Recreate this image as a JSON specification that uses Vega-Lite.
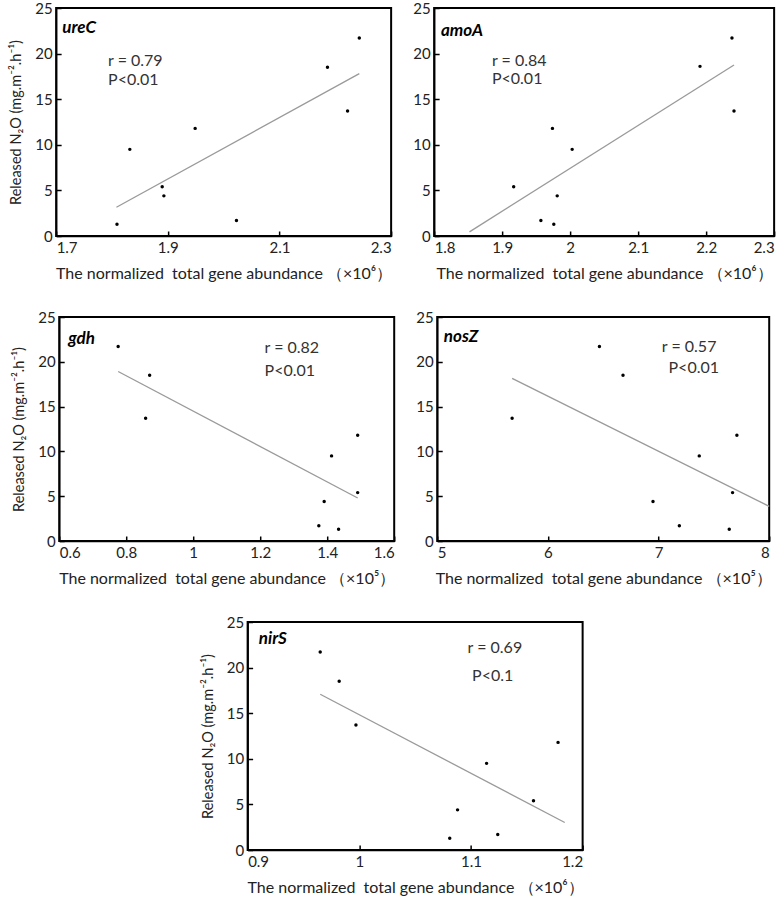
{
  "$schema": "https://vega.github.io/schema/vega-lite/v6.json",
  "background": "white",
  "padding": {"left": 7, "top": 0, "right": 1, "bottom": 2},
  "spacing": 27,
  "center": true,
  "config": {
    "view": {"stroke": "black", "strokeWidth": 2},
    "concat": {"spacing": 18},
    "axis": {
      "grid": false,
      "domainColor": "black",
      "domainWidth": 1.5,
      "tickColor": "black",
      "tickWidth": 1.5,
      "tickSize": -5,
      "labelColor": "#222",
      "labelFont": "Lato",
      "labelFontSize": 15,
      "labelPadding": 9,
      "titleFont": "Lato",
      "titleFontWeight": "normal",
      "titleColor": "#222",
      "titleFontSize": 16
    },
    "axisY": {"titleFontSize": 14.5, "titlePadding": 11},
    "axisX": {"titlePadding": 10}
  },
  "datasets": {
    "points": [
      {"gene": "ureC", "x": 1.809, "y": 1.3},
      {"gene": "ureC", "x": 1.832, "y": 9.5},
      {"gene": "ureC", "x": 1.890, "y": 5.4},
      {"gene": "ureC", "x": 1.893, "y": 4.4},
      {"gene": "ureC", "x": 1.949, "y": 11.8},
      {"gene": "ureC", "x": 2.023, "y": 1.7},
      {"gene": "ureC", "x": 2.186, "y": 18.5},
      {"gene": "ureC", "x": 2.222, "y": 13.7},
      {"gene": "ureC", "x": 2.243, "y": 21.7},
      {"gene": "amoA", "x": 2.238, "y": 21.7},
      {"gene": "amoA", "x": 2.191, "y": 18.6},
      {"gene": "amoA", "x": 2.241, "y": 13.7},
      {"gene": "amoA", "x": 1.974, "y": 11.8},
      {"gene": "amoA", "x": 2.003, "y": 9.5},
      {"gene": "amoA", "x": 1.917, "y": 5.4},
      {"gene": "amoA", "x": 1.981, "y": 4.4},
      {"gene": "amoA", "x": 1.957, "y": 1.7},
      {"gene": "amoA", "x": 1.976, "y": 1.3},
      {"gene": "gdh", "x": 0.776, "y": 21.7},
      {"gene": "gdh", "x": 0.870, "y": 18.5},
      {"gene": "gdh", "x": 0.858, "y": 13.7},
      {"gene": "gdh", "x": 1.491, "y": 11.8},
      {"gene": "gdh", "x": 1.413, "y": 9.5},
      {"gene": "gdh", "x": 1.391, "y": 4.4},
      {"gene": "gdh", "x": 1.491, "y": 5.4},
      {"gene": "gdh", "x": 1.375, "y": 1.7},
      {"gene": "gdh", "x": 1.434, "y": 1.3},
      {"gene": "nosZ", "x": 6.466, "y": 21.7},
      {"gene": "nosZ", "x": 6.679, "y": 18.5},
      {"gene": "nosZ", "x": 5.677, "y": 13.7},
      {"gene": "nosZ", "x": 7.708, "y": 11.8},
      {"gene": "nosZ", "x": 7.368, "y": 9.5},
      {"gene": "nosZ", "x": 6.950, "y": 4.4},
      {"gene": "nosZ", "x": 7.669, "y": 5.4},
      {"gene": "nosZ", "x": 7.188, "y": 1.7},
      {"gene": "nosZ", "x": 7.639, "y": 1.3},
      {"gene": "nirS", "x": 0.965, "y": 21.7},
      {"gene": "nirS", "x": 0.982, "y": 18.5},
      {"gene": "nirS", "x": 0.997, "y": 13.7},
      {"gene": "nirS", "x": 1.178, "y": 11.8},
      {"gene": "nirS", "x": 1.114, "y": 9.5},
      {"gene": "nirS", "x": 1.088, "y": 4.4},
      {"gene": "nirS", "x": 1.156, "y": 5.4},
      {"gene": "nirS", "x": 1.124, "y": 1.7},
      {"gene": "nirS", "x": 1.081, "y": 1.3}
    ],
    "lines": [
      {"gene": "ureC", "x": 1.808, "y": 3.15},
      {"gene": "ureC", "x": 2.243, "y": 17.8},
      {"gene": "amoA", "x": 1.852, "y": 0.45},
      {"gene": "amoA", "x": 2.241, "y": 18.75},
      {"gene": "gdh", "x": 0.776, "y": 18.92},
      {"gene": "gdh", "x": 1.491, "y": 4.8},
      {"gene": "nosZ", "x": 5.677, "y": 18.15},
      {"gene": "nosZ", "x": 8.0, "y": 3.87},
      {"gene": "nirS", "x": 0.965, "y": 17.08},
      {"gene": "nirS", "x": 1.184, "y": 3.02}
    ],
    "labels": [
      {"gene": "ureC", "kind": "gene", "x": 1.711, "y": 22.8, "text": "ureC"},
      {"gene": "ureC", "kind": "stat", "x": 1.793, "y": 19.2, "text": "r = 0.79"},
      {"gene": "ureC", "kind": "stat", "x": 1.793, "y": 17.1, "text": "P<0.01"},
      {"gene": "amoA", "kind": "gene", "x": 1.81, "y": 22.5, "text": "amoA"},
      {"gene": "amoA", "kind": "stat", "x": 1.885, "y": 19.2, "text": "r = 0.84"},
      {"gene": "amoA", "kind": "stat", "x": 1.885, "y": 17.2, "text": "P<0.01"},
      {"gene": "gdh", "kind": "gene", "x": 0.627, "y": 22.6, "text": "gdh"},
      {"gene": "gdh", "kind": "stat", "x": 1.213, "y": 21.5, "text": "r = 0.82"},
      {"gene": "gdh", "kind": "stat", "x": 1.213, "y": 19.0, "text": "P<0.01"},
      {"gene": "nosZ", "kind": "gene", "x": 5.06, "y": 22.8, "text": "nosZ"},
      {"gene": "nosZ", "kind": "stat", "x": 7.03, "y": 21.7, "text": "r = 0.57"},
      {"gene": "nosZ", "kind": "stat", "x": 7.09, "y": 19.3, "text": "P<0.01"},
      {"gene": "nirS", "kind": "gene", "x": 0.91, "y": 23.1, "text": "nirS"},
      {"gene": "nirS", "kind": "stat", "x": 1.097, "y": 22.2, "text": "r = 0.69"},
      {"gene": "nirS", "kind": "stat", "x": 1.101, "y": 19.1, "text": "P<0.1"}
    ]
  },
  "vconcat": [
    {
      "hconcat": [
        {
          "width": 335, "height": 228,
          "layer": [
            {"data": {"name": "lines"}, "transform": [{"filter": "datum.gene === 'ureC'"}],
             "mark": {"type": "line", "color": "#9a9a9a", "strokeWidth": 1.3},
             "encoding": {
               "x": {"field": "x", "type": "quantitative", "scale": {"domain": [1.7, 2.3], "nice": false, "zero": false}, "axis": {"values": [1.7, 1.9, 2.1, 2.3], "format": "~g", "title": "The normalized\u00a0\u00a0total gene abundance\u00a0（×10⁶）"}},
               "y": {"field": "y", "type": "quantitative", "scale": {"domain": [0, 25], "nice": false}, "axis": {"values": [0, 5, 10, 15, 20, 25], "title": "Released N₂O (mg.m⁻².h⁻¹)"}}}},
            {"data": {"name": "points"}, "transform": [{"filter": "datum.gene === 'ureC'"}],
             "mark": {"type": "circle", "size": 12, "color": "black", "opacity": 1},
             "encoding": {"x": {"field": "x", "type": "quantitative"}, "y": {"field": "y", "type": "quantitative"}}},
            {"data": {"name": "labels"}, "transform": [{"filter": "datum.gene === 'ureC' && datum.kind === 'gene'"}],
             "mark": {"type": "text", "align": "left", "baseline": "middle", "font": "Lato", "fontSize": 17, "fontWeight": "bold", "fontStyle": "italic", "color": "black"},
             "encoding": {"x": {"field": "x", "type": "quantitative"}, "y": {"field": "y", "type": "quantitative"}, "text": {"field": "text"}}},
            {"data": {"name": "labels"}, "transform": [{"filter": "datum.gene === 'ureC' && datum.kind === 'stat'"}],
             "mark": {"type": "text", "align": "left", "baseline": "middle", "font": "Lato", "fontSize": 16, "color": "#333"},
             "encoding": {"x": {"field": "x", "type": "quantitative"}, "y": {"field": "y", "type": "quantitative"}, "text": {"field": "text"}}}
          ]
        },
        {
          "width": 340, "height": 228,
          "layer": [
            {"data": {"name": "lines"}, "transform": [{"filter": "datum.gene === 'amoA'"}],
             "mark": {"type": "line", "color": "#9a9a9a", "strokeWidth": 1.3},
             "encoding": {
               "x": {"field": "x", "type": "quantitative", "scale": {"domain": [1.8, 2.3], "nice": false, "zero": false}, "axis": {"values": [1.8, 1.9, 2.0, 2.1, 2.2, 2.3], "format": "~g", "title": "The normalized\u00a0\u00a0total gene abundance\u00a0（×10⁶）"}},
               "y": {"field": "y", "type": "quantitative", "scale": {"domain": [0, 25], "nice": false}, "axis": {"values": [0, 5, 10, 15, 20, 25], "title": null}}}},
            {"data": {"name": "points"}, "transform": [{"filter": "datum.gene === 'amoA'"}],
             "mark": {"type": "circle", "size": 12, "color": "black", "opacity": 1},
             "encoding": {"x": {"field": "x", "type": "quantitative"}, "y": {"field": "y", "type": "quantitative"}}},
            {"data": {"name": "labels"}, "transform": [{"filter": "datum.gene === 'amoA' && datum.kind === 'gene'"}],
             "mark": {"type": "text", "align": "left", "baseline": "middle", "font": "Lato", "fontSize": 17, "fontWeight": "bold", "fontStyle": "italic", "color": "black"},
             "encoding": {"x": {"field": "x", "type": "quantitative"}, "y": {"field": "y", "type": "quantitative"}, "text": {"field": "text"}}},
            {"data": {"name": "labels"}, "transform": [{"filter": "datum.gene === 'amoA' && datum.kind === 'stat'"}],
             "mark": {"type": "text", "align": "left", "baseline": "middle", "font": "Lato", "fontSize": 16, "color": "#333"},
             "encoding": {"x": {"field": "x", "type": "quantitative"}, "y": {"field": "y", "type": "quantitative"}, "text": {"field": "text"}}}
          ]
        }
      ]
    },
    {
      "hconcat": [
        {
          "width": 335, "height": 224,
          "layer": [
            {"data": {"name": "lines"}, "transform": [{"filter": "datum.gene === 'gdh'"}],
             "mark": {"type": "line", "color": "#9a9a9a", "strokeWidth": 1.3},
             "encoding": {
               "x": {"field": "x", "type": "quantitative", "scale": {"domain": [0.6, 1.6], "nice": false, "zero": false}, "axis": {"values": [0.6, 0.8, 1.0, 1.2, 1.4, 1.6], "format": "~g", "title": "The normalized\u00a0\u00a0total gene abundance\u00a0（×10⁵）"}},
               "y": {"field": "y", "type": "quantitative", "scale": {"domain": [0, 25], "nice": false}, "axis": {"values": [0, 5, 10, 15, 20, 25], "title": "Released N₂O (mg.m⁻².h⁻¹)"}}}},
            {"data": {"name": "points"}, "transform": [{"filter": "datum.gene === 'gdh'"}],
             "mark": {"type": "circle", "size": 12, "color": "black", "opacity": 1},
             "encoding": {"x": {"field": "x", "type": "quantitative"}, "y": {"field": "y", "type": "quantitative"}}},
            {"data": {"name": "labels"}, "transform": [{"filter": "datum.gene === 'gdh' && datum.kind === 'gene'"}],
             "mark": {"type": "text", "align": "left", "baseline": "middle", "font": "Lato", "fontSize": 17, "fontWeight": "bold", "fontStyle": "italic", "color": "black"},
             "encoding": {"x": {"field": "x", "type": "quantitative"}, "y": {"field": "y", "type": "quantitative"}, "text": {"field": "text"}}},
            {"data": {"name": "labels"}, "transform": [{"filter": "datum.gene === 'gdh' && datum.kind === 'stat'"}],
             "mark": {"type": "text", "align": "left", "baseline": "middle", "font": "Lato", "fontSize": 16, "color": "#333"},
             "encoding": {"x": {"field": "x", "type": "quantitative"}, "y": {"field": "y", "type": "quantitative"}, "text": {"field": "text"}}}
          ]
        },
        {
          "width": 332, "height": 224,
          "layer": [
            {"data": {"name": "lines"}, "transform": [{"filter": "datum.gene === 'nosZ'"}],
             "mark": {"type": "line", "color": "#9a9a9a", "strokeWidth": 1.3},
             "encoding": {
               "x": {"field": "x", "type": "quantitative", "scale": {"domain": [5, 8], "nice": false, "zero": false}, "axis": {"values": [5, 6, 7, 8], "format": "~g", "title": "The normalized\u00a0\u00a0total gene abundance\u00a0（×10⁵）"}},
               "y": {"field": "y", "type": "quantitative", "scale": {"domain": [0, 25], "nice": false}, "axis": {"values": [0, 5, 10, 15, 20, 25], "title": null}}}},
            {"data": {"name": "points"}, "transform": [{"filter": "datum.gene === 'nosZ'"}],
             "mark": {"type": "circle", "size": 12, "color": "black", "opacity": 1},
             "encoding": {"x": {"field": "x", "type": "quantitative"}, "y": {"field": "y", "type": "quantitative"}}},
            {"data": {"name": "labels"}, "transform": [{"filter": "datum.gene === 'nosZ' && datum.kind === 'gene'"}],
             "mark": {"type": "text", "align": "left", "baseline": "middle", "font": "Lato", "fontSize": 17, "fontWeight": "bold", "fontStyle": "italic", "color": "black"},
             "encoding": {"x": {"field": "x", "type": "quantitative"}, "y": {"field": "y", "type": "quantitative"}, "text": {"field": "text"}}},
            {"data": {"name": "labels"}, "transform": [{"filter": "datum.gene === 'nosZ' && datum.kind === 'stat'"}],
             "mark": {"type": "text", "align": "left", "baseline": "middle", "font": "Lato", "fontSize": 16, "color": "#333"},
             "encoding": {"x": {"field": "x", "type": "quantitative"}, "y": {"field": "y", "type": "quantitative"}, "text": {"field": "text"}}}
          ]
        }
      ]
    },
    {
      "width": 335, "height": 228,
      "layer": [
        {"data": {"name": "lines"}, "transform": [{"filter": "datum.gene === 'nirS'"}],
         "mark": {"type": "line", "color": "#9a9a9a", "strokeWidth": 1.3},
         "encoding": {
           "x": {"field": "x", "type": "quantitative", "scale": {"domain": [0.9, 1.2], "nice": false, "zero": false}, "axis": {"values": [0.9, 1.0, 1.1, 1.2], "format": "~g", "title": "The normalized\u00a0\u00a0total gene abundance\u00a0（×10⁶）"}},
           "y": {"field": "y", "type": "quantitative", "scale": {"domain": [0, 25], "nice": false}, "axis": {"values": [0, 5, 10, 15, 20, 25], "title": "Released N₂O (mg.m⁻².h⁻¹)"}}}},
        {"data": {"name": "points"}, "transform": [{"filter": "datum.gene === 'nirS'"}],
         "mark": {"type": "circle", "size": 12, "color": "black", "opacity": 1},
         "encoding": {"x": {"field": "x", "type": "quantitative"}, "y": {"field": "y", "type": "quantitative"}}},
        {"data": {"name": "labels"}, "transform": [{"filter": "datum.gene === 'nirS' && datum.kind === 'gene'"}],
         "mark": {"type": "text", "align": "left", "baseline": "middle", "font": "Lato", "fontSize": 17, "fontWeight": "bold", "fontStyle": "italic", "color": "black"},
         "encoding": {"x": {"field": "x", "type": "quantitative"}, "y": {"field": "y", "type": "quantitative"}, "text": {"field": "text"}}},
        {"data": {"name": "labels"}, "transform": [{"filter": "datum.gene === 'nirS' && datum.kind === 'stat'"}],
         "mark": {"type": "text", "align": "left", "baseline": "middle", "font": "Lato", "fontSize": 16, "color": "#333"},
         "encoding": {"x": {"field": "x", "type": "quantitative"}, "y": {"field": "y", "type": "quantitative"}, "text": {"field": "text"}}}
      ]
    }
  ]
}
